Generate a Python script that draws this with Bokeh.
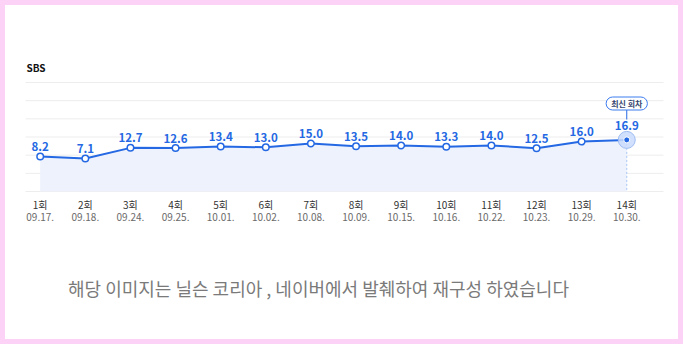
from bokeh.plotting import figure
from bokeh.models import Range1d, Label, ColumnDataSource
from bokeh.embed import file_html
from bokeh.resources import INLINE
from bokeh.core.properties import value

# ---------------- data ----------------
channel = "SBS"
episodes = ["1회", "2회", "3회", "4회", "5회", "6회", "7회",
            "8회", "9회", "10회", "11회", "12회", "13회", "14회"]
dates = ["09.17.", "09.18.", "09.24.", "09.25.", "10.01.", "10.02.", "10.08.",
         "10.09.", "10.15.", "10.16.", "10.22.", "10.23.", "10.29.", "10.30."]
ratings = [8.2, 7.1, 12.7, 12.6, 13.4, 13.0, 15.0,
           13.5, 14.0, 13.3, 14.0, 12.5, 16.0, 16.9]
latest_tag = "최신 회차"
caption = "해당 이미지는  닐슨 코리아 , 네이버에서 발췌하여 재구성 하였습니다"

# ---------------- layout ----------------
W, H = 683, 344
X0_PX, STEP_PX = 39.7, 45.12      # canvas px of first category, px per category
Y0_PX, PX_PER_UNIT = 171.5, 1.9   # canvas px of value 0, px per rating point


def xd(px):
    return (px - X0_PX) / STEP_PX


def yd(py):
    return (Y0_PX - py) / PX_PER_UNIT


BLUE = "#2468e3"
FONT = value("Noto Sans CJK KR")

idx = list(range(len(ratings)))
last = idx[-1]

p = figure(width=W, height=H,
           x_range=Range1d(xd(0), xd(W)), y_range=Range1d(yd(H), yd(0)),
           x_axis_type=None, y_axis_type=None,
           output_backend="svg", toolbar_location=None, min_border=0)
p.grid.visible = False
p.background_fill_color = "white"
p.border_fill_color = "white"
p.outline_line_color = "#fcd3f6"
p.outline_line_width = 9

# gridlines
grid_px = [82 + k * 18.17 for k in range(7)]
p.segment(x0=xd(25), x1=xd(663), y0=[yd(g) for g in grid_px], y1=[yd(g) for g in grid_px],
          line_color="#ededed", line_width=1)
baseline = yd(191)

# area + line
p.varea(x=idx, y1=baseline, y2=ratings, fill_color="#edf2fd")
p.segment(x0=last, x1=last, y0=ratings[-1], y1=baseline,
          line_color="#a9c4f3", line_dash="2 2", line_width=1)
p.line(idx, ratings, line_color=BLUE, line_width=2)
p.scatter(idx[:-1], ratings[:-1], size=6.5, fill_color="white", line_color=BLUE, line_width=1.5)
p.scatter([last], [ratings[-1]], size=17, fill_color="#c9dafb", fill_alpha=0.85,
          line_color="#9fbdf3", line_width=1)
p.scatter([last], [ratings[-1]], size=6, fill_color=BLUE, line_color="white", line_width=1)

# value labels
offs = [-10] * (len(ratings) - 1) + [-14]
src = ColumnDataSource(dict(x=idx, y=ratings, t=[f"{v:.1f}" for v in ratings], off=offs))
p.text(x="x", y="y", text="t", y_offset="off", source=src, text_align="center",
       text_baseline="middle", text_font=FONT, text_font_size="11.5px",
       text_font_style="bold", text_color=BLUE)

# latest tag
p.segment(x0=last, x1=last, y0=yd(109), y1=yd(119), line_color=BLUE, line_width=1)
p.add_layout(Label(x=last, y=yd(103), text=latest_tag, text_align="center",
                   text_baseline="middle", text_font="Noto Sans CJK KR",
                   text_font_size="8px", text_font_style="bold", text_color="#34466e",
                   background_fill_color="white", border_line_color="#3d7cf0",
                   border_line_width=1, border_radius=8,
                   padding=dict(left=5, right=5, top=1, bottom=1)))

# category labels
p.text(x=idx, y=baseline, text=episodes, y_offset=12.7, text_align="center",
       text_baseline="middle", text_font=FONT, text_font_size="10px", text_color="#333333")
p.text(x=idx, y=baseline, text=dates, y_offset=25.3, text_align="center",
       text_baseline="middle", text_font=FONT, text_font_size="10px", text_color="#6a6a6a")

# title and caption
p.text(x=[xd(26)], y=[yd(67)], text=[channel], text_align="left", text_baseline="middle",
       text_font=FONT, text_font_size="10px", text_font_style="bold", text_color="#111111")
p.text(x=[xd(320)], y=[yd(287)], text=[caption], text_align="center", text_baseline="middle",
       text_font=FONT, text_font_size="18px", text_color="#7a7a7a")

open("out.html", "w").write(file_html(p, INLINE))
